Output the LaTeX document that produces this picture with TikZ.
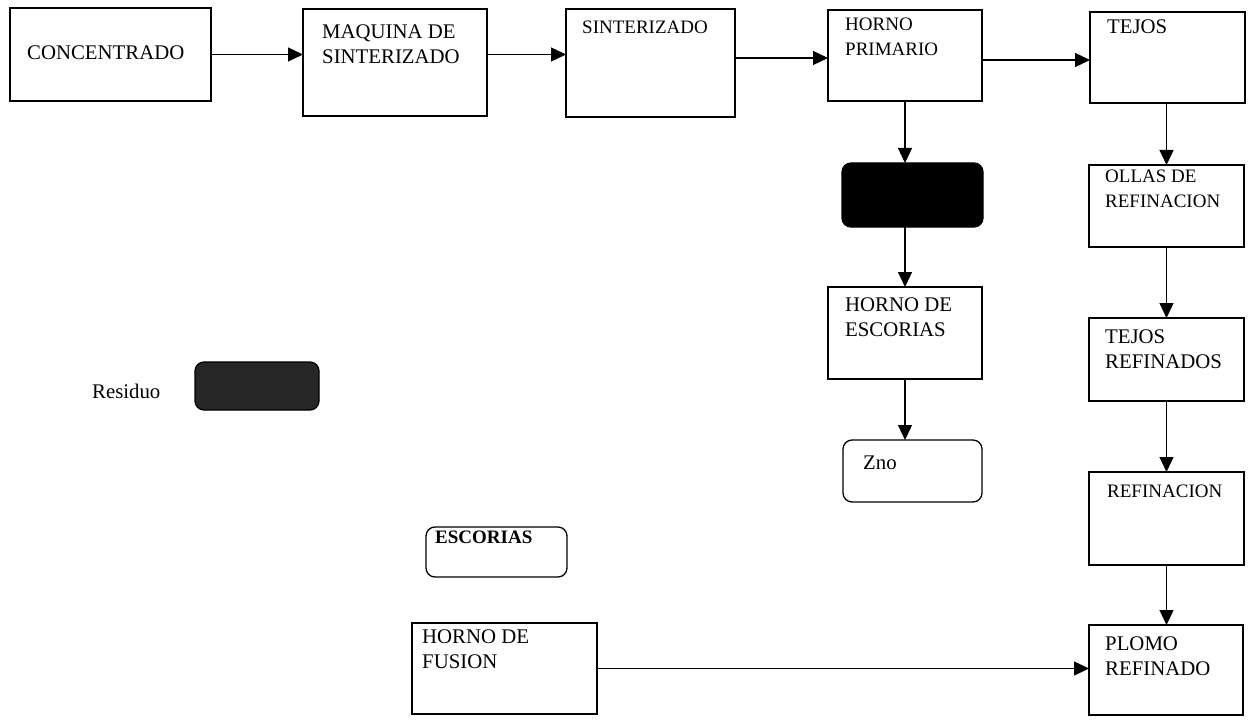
\documentclass[tikz,border=0pt]{standalone}
\usepackage{fontspec}
\setmainfont{Liberation Serif}
\usetikzlibrary{arrows.meta}
\begin{document}
\begin{tikzpicture}[x=1pt,y=-1pt,
  box/.style={draw, line width=1.3pt, inner sep=0pt, outer sep=0pt},
  rbox/.style={box, rounded corners=9pt},
  darkbox/.style={rbox, fill=black},
  lbl/.style={anchor=north west, inner sep=0pt, align=left, font=\fontsize{20.8}{25}\selectfont},
  slbl/.style={lbl, font=\fontsize{19}{25}\selectfont},
  arr/.style={line width=1.3pt, -{Triangle[length=15pt,width=14pt]}}
]
\useasboundingbox (0,0) rectangle (1249,722);
% boxes
\node[box, minimum width=201, minimum height=93] (conc) at (110.5,54.5) {};
\node[box, minimum width=184, minimum height=107] (maq) at (395,62.5) {};
\node[box, minimum width=169, minimum height=108] (sint) at (650.5,63) {};
\node[box, minimum width=154, minimum height=91] (horno) at (905,55.5) {};
\node[box, minimum width=155, minimum height=91] (tejos) at (1167.5,57.5) {};
\node[darkbox, minimum width=141, minimum height=64] (dark) at (912.5,195) {};
\node[box, minimum width=154, minimum height=92] (hesc) at (905,333) {};
\node[rbox, minimum width=139, minimum height=62] (zno) at (912.5,471) {};
\node[box, minimum width=155, minimum height=82] (ollas) at (1166.5,206) {};
\node[box, minimum width=155, minimum height=83] (tref) at (1166.5,359.5) {};
\node[box, minimum width=155, minimum height=93] (refin) at (1166.5,518.5) {};
\node[box, minimum width=154, minimum height=90] (plomo) at (1166,670) {};
\node[box, minimum width=185, minimum height=91] (hfus) at (504.5,668.5) {};
\node[rbox, minimum width=141, minimum height=50] (esc) at (496.5,552) {};
\node[darkbox, fill=black!85, minimum width=124, minimum height=48] (resbox) at (257,386) {};
% labels
\node[lbl] (tconc) at (27,46) {CONCENTRADO};
\node[lbl] (tmaq) at (322,25) {MAQUINA DE\\SINTERIZADO};
\node[slbl] (tsint) at (582,21) {SINTERIZADO};
\node[slbl] (thorno) at (845,18) {HORNO\\PRIMARIO};
\node[lbl] (ttejos) at (1107,20) {TEJOS};
\node[lbl] (thesc) at (845,298) {HORNO DE\\ESCORIAS};
\node[lbl] (tzno) at (863,456) {Zno};
\node[slbl] (tollas) at (1105,170) {OLLAS DE\\REFINACION};
\node[lbl] (ttref) at (1105,330) {TEJOS\\REFINADOS};
\node[slbl] (trefin) at (1107,485) {REFINACION};
\node[lbl] (tplomo) at (1105,637) {PLOMO\\REFINADO};
\node[lbl] (thfus) at (422,630) {HORNO DE\\FUSION};
\node[lbl, font=\fontsize{19}{25}\selectfont\bfseries] (tesc) at (435,531) {ESCORIAS};
\node[lbl] (tres) at (92,384) {Residuo};
% connectors
\draw[arr] (conc.east) -- (conc.east -| maq.west);
\draw[arr] (maq.east |- conc.east) -- (sint.west |- conc.east);
\draw[arr] ([yshift=-2.5]sint.east |- horno.east) -- ([yshift=-2.5]horno.west);
\draw[arr] ([yshift=-4.5]horno.east) -- ([yshift=-4.5]horno.east -| tejos.west);
\draw[arr] (horno.south) -- (horno.south |- dark.north);
\draw[arr] (dark.south -| horno.south) -- (hesc.north);
\draw[arr] (hesc.south) -- (hesc.south |- zno.north);
\draw[arr] (tejos.south -| ollas.north) -- (ollas.north);
\draw[arr] (ollas.south) -- (tref.north);
\draw[arr] (tref.south) -- (refin.north);
\draw[arr] (refin.south) -- (refin.south |- plomo.north);
\draw[arr] (hfus.east) -- (hfus.east -| plomo.west);
\end{tikzpicture}
\end{document}
